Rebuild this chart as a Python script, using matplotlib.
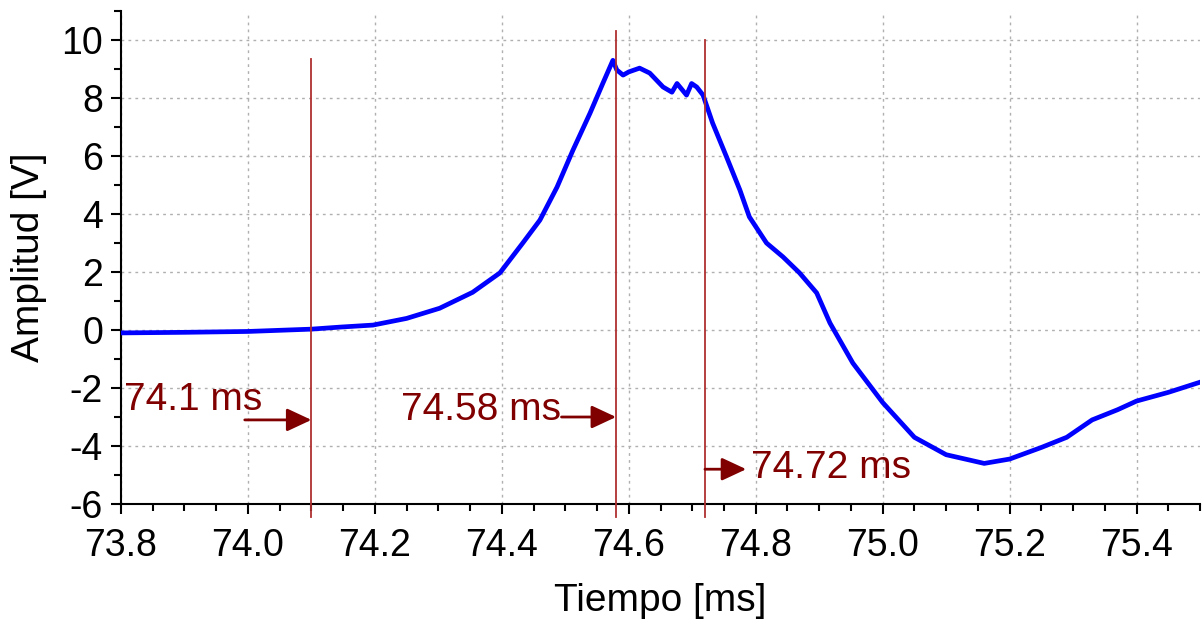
import numpy as np
import matplotlib.pyplot as plt
from matplotlib.ticker import MultipleLocator

plt.rcParams['font.family'] = ['Liberation Sans', 'DejaVu Sans']
plt.rcParams['axes.unicode_minus'] = False

# signal (time in ms, amplitude in V)
t = [73.80, 73.90, 74.00, 74.10, 74.145, 74.197, 74.25, 74.302, 74.354, 74.397,
     74.433, 74.46, 74.487, 74.512, 74.539, 74.559, 74.575, 74.581, 74.591, 74.60,
     74.617, 74.633, 74.654, 74.668, 74.676, 74.691, 74.699, 74.707, 74.717,
     74.732, 74.754, 74.775, 74.79, 74.817, 74.843, 74.869, 74.896, 74.917,
     74.953, 75.00, 75.05, 75.10, 75.16, 75.20, 75.25, 75.29, 75.33, 75.37,
     75.40, 75.45, 75.50]
amp = [-0.10, -0.08, -0.05, 0.03, 0.10, 0.17, 0.40, 0.75, 1.30, 1.97,
       3.00, 3.79, 4.93, 6.20, 7.48, 8.50, 9.30, 8.97, 8.79, 8.90,
       9.03, 8.86, 8.38, 8.20, 8.50, 8.10, 8.50, 8.38, 8.10,
       7.14, 5.97, 4.83, 3.90, 3.00, 2.52, 1.97, 1.28, 0.24,
       -1.14, -2.50, -3.70, -4.30, -4.60, -4.45, -4.05, -3.70, -3.10, -2.75,
       -2.45, -2.15, -1.80]

# cursor markers
cursor_t = [74.1, 74.58, 74.72]
cursor_top = [9.35, 10.3, 10.0]
cursor_labels = ['74.1 ms', '74.58 ms', '74.72 ms']

fig = plt.figure(figsize=(12.04, 6.22), dpi=100)
ax = fig.add_axes([0.1005, 0.1897, 0.8962, 0.7926])

ax.plot(t, amp, color='#0000ff', linewidth=3.4, zorder=3)

for xc, top in zip(cursor_t, cursor_top):
    ax.plot([xc, xc], [-6.45, top], color='#b03030', linewidth=1.3,
            clip_on=False, zorder=4)

dark = '#800000'
arrow = dict(arrowstyle='-|>,head_length=0.75,head_width=0.35', color=dark, lw=2,
             shrinkA=0, shrinkB=0, mutation_scale=20)
# 74.1 ms: text above, arrow below pointing right
ax.annotate('', xy=(74.1, -3.1), xytext=(73.995, -3.1), arrowprops=arrow, zorder=5)
ax.text(73.805, -2.4, cursor_labels[0], color=dark, fontsize=28, va='center', ha='left')
# 74.58 ms: text left, arrow to line
ax.annotate('', xy=(74.58, -3.0), xytext=(74.494, -3.0), arrowprops=arrow, zorder=5)
ax.text(74.494, -2.75, cursor_labels[1], color=dark, fontsize=28, va='center', ha='right')
# 74.72 ms: arrow from line, text right
ax.annotate('', xy=(74.785, -4.8), xytext=(74.72, -4.8), arrowprops=arrow, zorder=5)
ax.text(74.792, -4.75, cursor_labels[2], color=dark, fontsize=28, va='center', ha='left')

ax.set_xlim(73.8, 75.5)
ax.set_ylim(-6, 11)
ax.xaxis.set_major_locator(MultipleLocator(0.2))
ax.xaxis.set_minor_locator(MultipleLocator(0.05))
ax.yaxis.set_minor_locator(MultipleLocator(1))
ax.xaxis.set_major_formatter(plt.FormatStrFormatter('%.1f'))
ax.set_yticks(range(-6, 11, 2))

ax.tick_params(which='major', length=7, width=1.5, labelsize=27, direction='out')
ax.tick_params(axis='x', which='major', pad=10)
ax.tick_params(axis='y', which='major', pad=6)
ax.tick_params(which='minor', length=5, width=1.5, direction='out')

ax.grid(True, which='major', color='#b0b0b0', linestyle=(0, (2, 3)), linewidth=1)
for s in ['top', 'right']:
    ax.spines[s].set_visible(False)
for s in ['left', 'bottom']:
    ax.spines[s].set_linewidth(1.5)

ax.set_xlabel('Tiempo [ms]', fontsize=28, labelpad=14)
ax.set_ylabel('Amplitud [V]', fontsize=28, labelpad=10)

fig.savefig('out.png', dpi=100)
